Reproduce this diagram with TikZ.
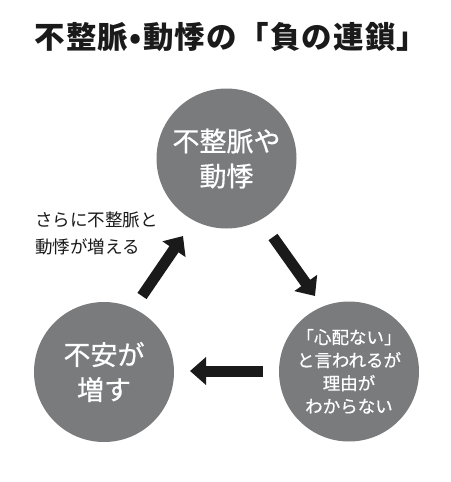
\documentclass[tikz,border=0pt]{standalone}
\usepackage{fontspec}
\newfontfamily\jp{Noto Sans CJK JP}
\newfontfamily\jpm[FakeBold=0.6]{Noto Sans CJK JP}
\newfontfamily\jpt[LetterSpace=4]{Noto Sans CJK JP}
\usetikzlibrary{arrows.meta}
\definecolor{cgray}{RGB}{122,123,125}
\definecolor{ink}{RGB}{26,26,26}
\begin{document}
\begin{tikzpicture}[x=1pt,y=-1pt,
  bubble/.style={circle,fill=cgray,minimum size=140pt,inner sep=0pt,text=white,align=center},
  flow/.style={draw=ink,line width=11pt,-{Triangle[width=27pt,length=16pt]}},
  big/.style={font=\jpm\fontsize{27}{35}\selectfont},
  small/.style={font=\jpm\fontsize{17.5}{23}\selectfont}
]
\useasboundingbox[fill=white] (0,0) rectangle (450,482);
\node[font=\jpt\bfseries\fontsize{30.5}{36}\selectfont,text=ink] (title) at (231,37) {不整脈•動悸の「負の連鎖」};
\node[bubble,big] (top) at (226.5,158.5) {不整脈や\\動悸};
\node[bubble,big] (left) at (104,372) {不安が\\増す};
\node[bubble,small] (right) at (349,371.5) {「心配ない」\\と言われるが\\理由が\\わからない};
\node[font=\jp\fontsize{17.5}{27}\selectfont,align=left,anchor=west,inner sep=0pt,text=ink] (note) at (35,233.5) {さらに不整脈と\\動悸が増える};
\coordinate (a1s) at (273,237);
\coordinate (a1e) at (315,296);
\coordinate (a2s) at (142,296);
\coordinate (a2e) at (183,236);
\coordinate (a3s) at (263,371);
\coordinate (a3e) at (190,371);
\draw[flow] (a1s) -- (a1e);
\draw[flow] (a2s) -- (a2e);
\draw[flow] (a3s) -- (a3e);
\end{tikzpicture}
\end{document}
